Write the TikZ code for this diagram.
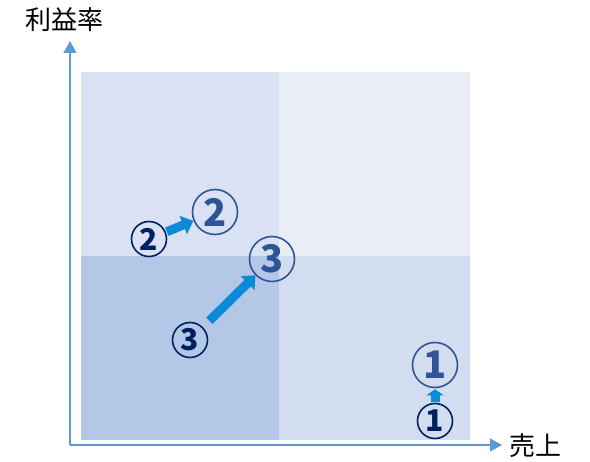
\documentclass[tikz,border=0pt]{standalone}
\usepackage{fontspec}
\usepackage{xcolor}
\usepackage{tikz}
\usetikzlibrary{arrows.meta}
\newfontfamily\cjk{Noto Sans CJK JP}

\definecolor{axisblue}{HTML}{5B9BD5}
\definecolor{qtl}{HTML}{D9E1F2}
\definecolor{qtr}{HTML}{E9EDF6}
\definecolor{qbl}{HTML}{B4C7E7}
\definecolor{qbr}{HTML}{D2DDEF}
\definecolor{bignum}{HTML}{2F5597}
\definecolor{smallnum}{HTML}{002060}
\definecolor{movearrow}{HTML}{0A8AD8}

\tikzset{
  axis/.style={axisblue, line width=1.5pt, -{Triangle[length=12pt, width=13pt]}},
  bigpos/.style={circle, draw, line width=1.6pt, bignum, minimum size=45pt, inner sep=0pt,
    font=\cjk\bfseries\fontsize{38}{38}\selectfont},
  smallpos/.style={circle, draw, line width=1.6pt, smallnum, minimum size=35pt, inner sep=0pt,
    font=\cjk\bfseries\fontsize{30}{30}\selectfont},
  move/.style={movearrow, line width=9pt, -{Triangle[length=11pt, width=19pt]}},
  axislabel/.style={font=\cjk\fontsize{26}{26}\selectfont, inner sep=0pt}
}

\begin{document}
\begin{tikzpicture}[x=1pt, y=-1pt]
    \useasboundingbox (0, 0) rectangle (590, 462);

    % quadrants
    \fill[qtl] (81, 72) rectangle (279, 256);
    \fill[qtr] (279, 72) rectangle (470, 256);
    \fill[qbl] (81, 256) rectangle (279, 440);
    \fill[qbr] (279, 256) rectangle (470, 440);

    % axes
    \coordinate (origin) at (70, 445);
    \coordinate (ytip) at (70, 41);
    \coordinate (xtip) at (502, 445);
    \draw[axis] (origin) -- (ytip);
    \draw[axis] (origin) -- (xtip);
    \node[axislabel] at (65, 20) (ylabel) {利益率};
    \node[axislabel] at (535, 446) (xlabel) {売上};

    % positions before and after
    \node[smallpos] at (435, 421) (one) {1};
    \node[bigpos] at (435, 365) (oneafter) {1};
    \node[smallpos] at (149, 239) (two) {2};
    \node[bigpos] at (215, 212) (twoafter) {2};
    \node[smallpos] at (190, 340) (three) {3};
    \node[bigpos] at (272, 259) (threeafter) {3};

    \draw[move, -{Triangle[length=6pt, width=17pt]}, shorten <=1pt, shorten >=1pt] (one) -- (oneafter);
    \draw[move, shorten <=1pt, shorten >=0pt] (two) -- (twoafter);
    \draw[move, shorten <=9pt, shorten >=0pt] (three) -- (threeafter);
\end{tikzpicture}
\end{document}
